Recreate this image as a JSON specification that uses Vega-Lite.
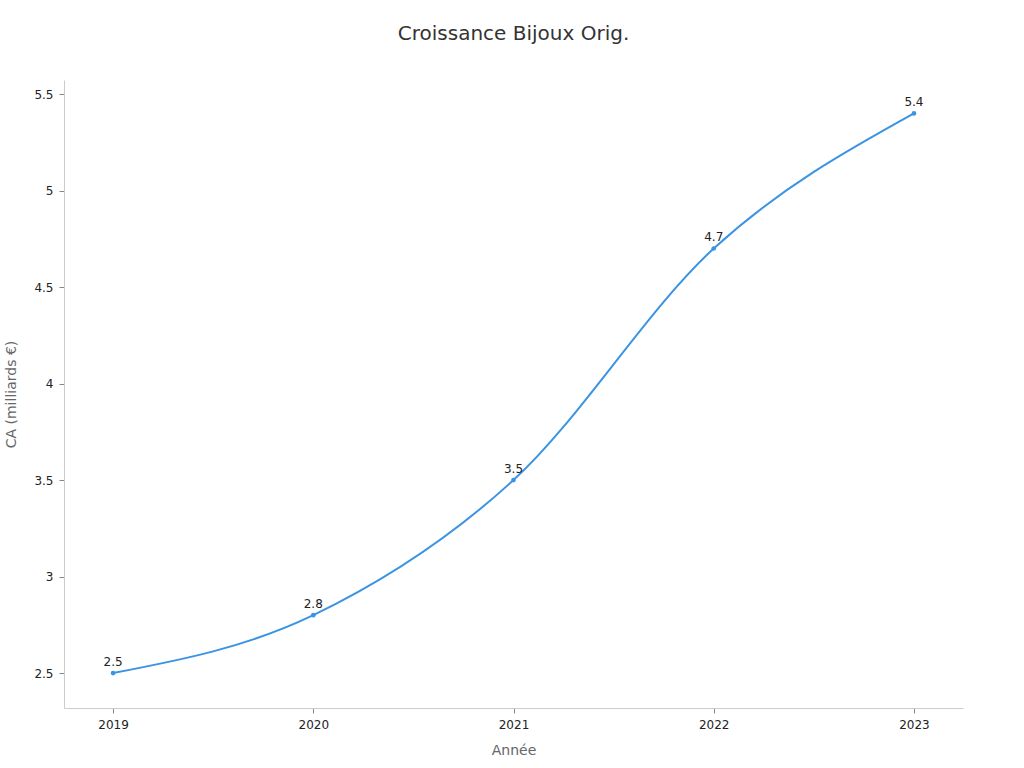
{
  "$schema": "https://vega.github.io/schema/vega-lite/v6.json",
  "autosize": "none",
  "width": 899,
  "height": 628,
  "padding": {"left": 64, "top": 80, "right": 61, "bottom": 60},
  "background": "white",
  "title": {
    "text": "Croissance Bijoux Orig.",
    "fontSize": 20,
    "fontWeight": "normal",
    "font": "DejaVu Sans",
    "color": "#333333",
    "offset": 36
  },
  "data": {
    "values": [
      {"annee": "2019", "ca": 2.5},
      {"annee": "2020", "ca": 2.8},
      {"annee": "2021", "ca": 3.5},
      {"annee": "2022", "ca": 4.7},
      {"annee": "2023", "ca": 5.4}
    ]
  },
  "encoding": {
    "x": {
      "field": "annee",
      "type": "ordinal",
      "title": "Année",
      "scale": {"type": "point", "padding": 0.245},
      "axis": {"labelAngle": 0, "titlePadding": 13}
    },
    "y": {
      "field": "ca",
      "type": "quantitative",
      "title": "CA (milliards €)",
      "scale": {"domain": [2.319, 5.573], "nice": false, "zero": false},
      "axis": {"values": [2.5, 3, 3.5, 4, 4.5, 5, 5.5], "format": "~g", "titlePadding": 15}
    }
  },
  "layer": [
    {
      "mark": {"type": "line", "interpolate": "monotone", "color": "#3b94e3", "strokeWidth": 2}
    },
    {
      "mark": {"type": "point", "filled": true, "color": "#3b94e3", "size": 22, "opacity": 1}
    },
    {
      "mark": {"type": "text", "dy": -11, "fontSize": 12, "color": "#222222", "font": "DejaVu Sans"},
      "encoding": {"text": {"field": "ca", "type": "quantitative", "format": ".1f"}}
    }
  ],
  "config": {
    "view": {"stroke": null},
    "axis": {
      "grid": false,
      "domainColor": "#cccccc",
      "tickColor": "#888888",
      "tickSize": 5,
      "labelFont": "DejaVu Sans",
      "labelFontSize": 12,
      "labelColor": "#222222",
      "labelPadding": 6,
      "titleFont": "DejaVu Sans",
      "titleFontSize": 14,
      "titleFontWeight": "normal",
      "titleColor": "#666666"
    }
  }
}
